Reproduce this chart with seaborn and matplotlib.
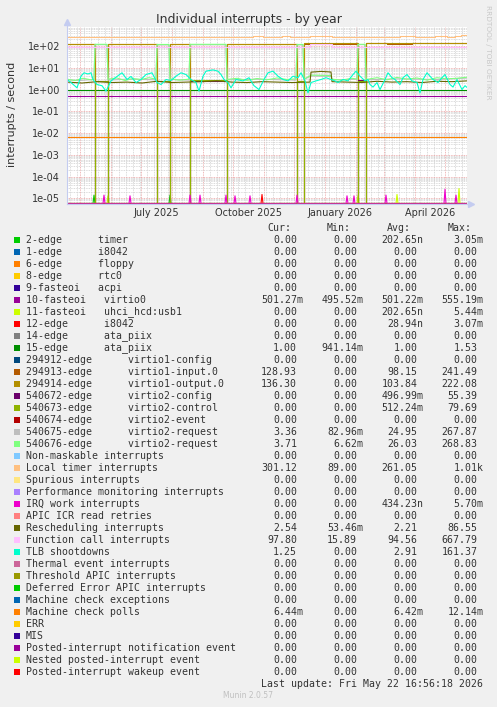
import numpy as np
import pandas as pd
import matplotlib
matplotlib.use("Agg")
import matplotlib.pyplot as plt
import matplotlib.dates as mdates
import matplotlib.ticker as mticker
import matplotlib.transforms as mtransforms
from matplotlib.patches import Rectangle
from matplotlib.lines import Line2D
import seaborn as sns

# ---------------- data (x = days from the left edge of the 400 day graph) ----
start = pd.Timestamp("2025-04-17 16:56")

names = [
    "2-edge      timer", "1-edge      i8042", "6-edge      floppy",
    "8-edge      rtc0", "9-fasteoi   acpi", "10-fasteoi   virtio0",
    "11-fasteoi   uhci_hcd:usb1", "12-edge      i8042", "14-edge      ata_piix",
    "15-edge      ata_piix", "294912-edge      virtio1-config",
    "294913-edge      virtio1-input.0", "294914-edge      virtio1-output.0",
    "540672-edge      virtio2-config", "540673-edge      virtio2-control",
    "540674-edge      virtio2-event", "540675-edge      virtio2-request",
    "540676-edge      virtio2-request", "Non-maskable interrupts",
    "Local timer interrupts", "Spurious interrupts",
    "Performance monitoring interrupts", "IRQ work interrupts",
    "APIC ICR read retries", "Rescheduling interrupts",
    "Function call interrupts", "TLB shootdowns", "Thermal event interrupts",
    "Threshold APIC interrupts", "Deferred Error APIC interrupts",
    "Machine check exceptions", "Machine check polls", "ERR", "MIS",
    "Posted-interrupt notification event", "Nested posted-interrupt event",
    "Posted-interrupt wakeup event",
]
colors = [
    "#00CC00", "#0066B3", "#FF8000", "#FFCC00", "#330099", "#990099", "#CCFF00",
    "#FF0000", "#808080", "#008F00", "#00487D", "#B35A00", "#B38F00", "#6B006B",
    "#8FB300", "#B30000", "#BEBEBE", "#80FF80", "#80C9FF", "#FFC080", "#FFE680",
    "#AA80FF", "#EE00CC", "#FF8080", "#666600", "#FFBFFF", "#00FFCC", "#CC6699",
    "#999900", "#00CC00", "#0066B3", "#FF8000", "#FFCC00", "#330099", "#990099",
    "#CCFF00", "#FF0000",
]
cur_vals = [0, 0, 0, 0, 0, 0.50127, 0, 0, 0, 1.00, 0, 128.93, 136.30, 0, 0, 0,
            3.36, 3.71, 0, 301.12, 0, 0, 0, 0, 2.54, 97.80, 1.25, 0, 0, 0, 0,
            6.44e-3, 0, 0, 0, 0, 0]
min_vals = [0, 0, 0, 0, 0, 0.49552, 0, 0, 0, 0.94114, 0, 0, 0, 0, 0, 0,
            82.96e-3, 6.62e-3, 0, 89.00, 0, 0, 0, 0, 53.46e-3, 15.89, 0, 0, 0,
            0, 0, 0, 0, 0, 0, 0, 0]
avg_vals = [202.65e-9, 0, 0, 0, 0, 0.50122, 202.65e-9, 28.94e-9, 0, 1.00, 0,
            98.15, 103.84, 0.49699, 0.51224, 0, 24.95, 26.03, 0, 261.05, 0, 0,
            434.23e-9, 0, 2.21, 94.56, 2.91, 0, 0, 0, 0, 6.42e-3, 0, 0, 0, 0, 0]
max_vals = [3.05e-3, 0, 0, 0, 0, 0.55519, 5.44e-3, 3.07e-3, 0, 1.53, 0, 241.49,
            222.08, 55.39, 79.69, 0, 267.87, 268.83, 0, 1010, 0, 0, 5.70e-3, 0,
            86.55, 667.79, 161.37, 0, 0, 0, 0, 12.14e-3, 0, 0, 0, 0, 0]

# flat series
virtio0_days = [0, 400]
virtio0_vals = [0.50, 0.50]
ata15_days = [0, 400]
ata15_vals = [1.0, 1.0]
mcpoll_days = [0, 400]
mcpoll_vals = [6.4e-3, 6.4e-3]

# step-like series
v1in_days = [0, 28, 41, 90, 103, 123, 160, 230, 237, 291, 299, 320, 345, 360, 400]
v1in_vals = [118, 0, 122, 0, 120, 0, 118, 0, 130, 0, 138, 128, 140, 136, 129]
v1out_days = [0, 28, 41, 90, 103, 123, 160, 230, 237, 291, 299, 400]
v1out_vals = [122, 0, 126, 0, 124, 0, 122, 0, 134, 0, 132, 136]
v2cfg_days = [0, 28, 41, 90, 103, 123, 160, 230, 237, 291, 299, 400]
v2cfg_vals = [0, 2.5, 0, 2.4, 0, 2.6, 0, 2.5, 0, 2.7, 0, 0]
v2ctl_days = [0, 28, 41, 90, 103, 123, 160, 230, 237, 291, 299, 400]
v2ctl_vals = [0, 2.6, 0, 2.5, 0, 2.7, 0, 2.6, 0, 2.6, 0, 0]
ltimer_days = [0, 186, 196, 215, 223, 243, 265, 308, 312, 333, 348, 368, 380, 388, 394, 400]
ltimer_vals = [252, 292, 252, 292, 252, 292, 252, 272, 252, 292, 252, 292, 252, 305, 335, 301]
fcall_days = [0, 243, 265, 400]
fcall_vals = [90, 128, 90, 98]

# line series
req675_days = [0, 12, 27, 28, 40, 41, 60, 89, 90, 102, 103, 122, 123, 159, 160, 190,
               229, 230, 236, 237, 244, 264, 265, 290, 291, 298, 299, 330, 370, 400]
req675_vals = [2.8, 2.6, 2.9, 115, 115, 2.7, 3.0, 2.8, 112, 112, 2.9, 2.7, 114, 114,
               2.8, 3.0, 2.7, 113, 113, 2.9, 4.2, 4.0, 2.8, 3.0, 116, 116, 2.8, 3.1,
               2.9, 3.36]
req676_days = [0, 8, 16, 24, 27, 28, 40, 41, 50, 58, 66, 74, 82, 89, 90, 102, 103,
               112, 122, 123, 159, 160, 170, 180, 190, 200, 210, 220, 229, 230, 236,
               237, 244, 264, 265, 275, 285, 290, 291, 298, 299, 310, 320, 330, 340,
               350, 360, 370, 380, 390, 400]
req676_vals = [3.0, 2.6, 3.3, 2.8, 2.9, 120, 120, 3.0, 3.4, 2.6, 3.2, 2.9, 3.5, 3.0,
               118, 118, 3.1, 2.7, 3.0, 120, 120, 2.9, 3.3, 2.6, 3.2, 2.8, 3.4, 2.9,
               3.1, 118, 118, 3.0, 4.6, 4.4, 3.0, 2.7, 3.3, 3.0, 120, 120, 2.9, 3.5,
               2.8, 3.6, 3.0, 3.4, 2.7, 3.5, 3.1, 3.3, 3.7]
resched_days = [0, 15, 30, 45, 60, 75, 90, 105, 120, 135, 150, 165, 180, 195, 210,
                225, 243, 244, 254, 264, 265, 280, 295, 310, 325, 340, 355, 370,
                385, 400]
resched_vals = [2.2, 2.0, 2.3, 2.1, 2.2, 2.0, 2.4, 2.1, 2.2, 2.3, 2.5, 2.2, 2.1,
                2.3, 2.2, 2.1, 2.2, 6.3, 6.8, 6.4, 2.3, 2.2, 2.1, 2.4, 2.2, 2.3,
                2.1, 2.4, 2.3, 2.5]
tlb_days = [0, 4, 10, 14, 17, 21, 24, 26, 30, 35, 39, 44, 50, 55, 60, 64, 69, 74,
            79, 85, 90, 94, 99, 104, 109, 114, 119, 124, 129, 132, 136, 139, 146,
            151, 154, 157, 161, 164, 169, 176, 182, 187, 192, 197, 201, 206, 211,
            216, 221, 226, 231, 234, 238, 241, 244, 249, 254, 259, 264, 268, 271,
            276, 281, 286, 289, 293, 298, 301, 303, 306, 310, 313, 318, 321, 325,
            328, 333, 336, 340, 345, 350, 353, 356, 360, 363, 366, 371, 375, 378,
            383, 386, 390, 395, 398, 400]
tlb_vals = [2.9, 2.1, 1.2, 4.1, 5.9, 5.2, 5.9, 2.9, 1.7, 1.5, 0.84, 2.5, 4.0, 5.9,
            2.9, 4.0, 2.1, 2.9, 4.9, 5.9, 2.1, 1.7, 2.9, 2.6, 4.1, 5.9, 4.9, 2.9,
            2.1, 0.84, 4.1, 7.0, 8.0, 7.0, 4.9, 2.9, 2.1, 1.2, 2.9, 2.5, 3.5, 1.5,
            1.0, 2.9, 5.9, 7.0, 4.1, 2.9, 2.5, 4.1, 3.5, 5.9, 2.5, 0.7, 2.1, 2.5,
            2.9, 3.5, 2.9, 2.5, 2.1, 2.9, 2.5, 4.9, 7.0, 4.1, 2.5, 2.9, 1.7, 1.3,
            2.1, 1.0, 2.9, 5.9, 3.5, 2.9, 1.7, 3.5, 4.9, 2.5, 2.1, 0.7, 2.9, 5.9,
            4.1, 2.9, 2.1, 3.5, 4.9, 1.7, 1.3, 2.9, 1.0, 1.5, 1.25]

# one-day spikes just above 1e-05
timer_spike_days = [27, 103]
timer_spike_vals = [1.4e-5, 1.4e-5]
uhci_spike_days = [41, 291, 330, 392]
uhci_spike_vals = [1.3e-5, 1.3e-5, 1.5e-5, 2.8e-5]
i8042_spike_days = [195]
i8042_spike_vals = [1.5e-5]
irqwork_spike_days = [37, 63, 123, 133, 159, 168, 183, 230, 280, 287, 319, 378, 389]
irqwork_spike_vals = [1.4e-5, 1.3e-5, 1.4e-5, 1.4e-5, 1.4e-5, 1.3e-5, 1.3e-5,
                      1.4e-5, 1.3e-5, 1.3e-5, 1.4e-5, 2.6e-5, 1.4e-5]

xtick_labels = ["July 2025", "October 2025", "January 2026", "April 2026"]
xtick_dates = ["2025-07-16", "2025-10-16", "2026-01-16", "2026-04-16"]
ytick_vals = [1e-5, 1e-4, 1e-3, 1e-2, 1e-1, 1e0, 1e1, 1e2]
col_headers = ["Cur:", "Min:", "Avg:", "Max:"]


def spikes(days, peaks):
    d, v = [0], [0.0]
    for day, p in zip(days, peaks):
        d += [day - 1, day, day + 1]
        v += [0.0, p, 0.0]
    d.append(400)
    v.append(0.0)
    return d, v


# name -> (days, values, steps)
series = {
    "2-edge      timer": spikes(timer_spike_days, timer_spike_vals) + (False,),
    "10-fasteoi   virtio0": (virtio0_days, virtio0_vals, False),
    "11-fasteoi   uhci_hcd:usb1": spikes(uhci_spike_days, uhci_spike_vals) + (False,),
    "12-edge      i8042": spikes(i8042_spike_days, i8042_spike_vals) + (False,),
    "15-edge      ata_piix": (ata15_days, ata15_vals, False),
    "294913-edge      virtio1-input.0": (v1in_days, v1in_vals, True),
    "294914-edge      virtio1-output.0": (v1out_days, v1out_vals, True),
    "540672-edge      virtio2-config": (v2cfg_days, v2cfg_vals, True),
    "540673-edge      virtio2-control": (v2ctl_days, v2ctl_vals, True),
    "540675-edge      virtio2-request": (req675_days, req675_vals, False),
    "540676-edge      virtio2-request": (req676_days, req676_vals, False),
    "Local timer interrupts": (ltimer_days, ltimer_vals, True),
    "IRQ work interrupts": spikes(irqwork_spike_days, irqwork_spike_vals) + (False,),
    "Rescheduling interrupts": (resched_days, resched_vals, False),
    "Function call interrupts": (fcall_days, fcall_vals, True),
    "TLB shootdowns": (tlb_days, tlb_vals, False),
    "Machine check polls": (mcpoll_days, mcpoll_vals, False),
}

# ---------------- figure ----------------
W, H = 497, 707
sns.set_style("white")
plt.rcParams["font.family"] = ["DejaVu Sans"]
TXT = "#333333"

fig = plt.figure(figsize=(W / 100, H / 100), dpi=100, facecolor="#F0F0F0")
ax_l, ax_r, ax_t, ax_b = 67, 467, 27, 203.5
ax = fig.add_axes([ax_l / W, 1 - ax_b / H, (ax_r - ax_l) / W, (ax_b - ax_t) / H])
ax.set_facecolor("white")

px_per_dec = 21.7
y_floor = 10 ** (-5 - (ax_b - 198.3) / px_per_dec)
y_top = 10 ** (2 + (46 - ax_t) / px_per_dec)

for name, color in zip(names, colors):
    if name in series:
        days, vals, steps = series[name]
    else:
        days, vals, steps = [0, 400], [0, 0], False
    x = start + pd.to_timedelta(np.asarray(days, dtype=float), unit="D")
    y = np.clip(np.asarray(vals, dtype=float), y_floor, None)
    sns.lineplot(x=x, y=y, color=color, lw=0.8, estimator=None, sort=False,
                 drawstyle="steps-post" if steps else "default", ax=ax)

ax.set_yscale("log")
ax.set_ylim(y_floor, y_top)
ax.set_xlim(start, start + pd.Timedelta(days=400))
ax.set_xlabel("")
ax.set_ylabel("")

ax.yaxis.set_major_locator(mticker.FixedLocator(ytick_vals))
ax.yaxis.set_minor_locator(mticker.LogLocator(base=10, subs=np.arange(2, 10), numticks=20))
ax.yaxis.set_major_formatter(mticker.FuncFormatter(lambda v, p: f"{v:.0e}"))
ax.yaxis.set_minor_formatter(mticker.NullFormatter())
ax.xaxis.set_major_locator(mdates.MonthLocator())
ax.xaxis.set_minor_locator(mdates.WeekdayLocator(byweekday=mdates.MO))
ax.xaxis.set_major_formatter(mticker.NullFormatter())
ax.xaxis.set_minor_formatter(mticker.NullFormatter())

ax.grid(True, which="minor", color="#CFCFCF", linestyle=(0, (1, 1)), linewidth=0.6)
ax.grid(True, which="major", color="#EBA0A0", linestyle=(0, (1, 1)), linewidth=0.6)
ax.set_axisbelow(True)

ax.tick_params(axis="y", which="major", labelsize=7, labelcolor=TXT, length=2,
               width=0.6, color="#A0A0A0", pad=3)
ax.tick_params(axis="x", which="major", length=2, width=0.6, color="#A0A0A0")
ax.tick_params(which="minor", length=0)

for s in ["top", "right"]:
    ax.spines[s].set_visible(False)
axis_col = "#C4CCF0"
for s in ["left", "bottom"]:
    ax.spines[s].set_color(axis_col)
    ax.spines[s].set_linewidth(0.8)

# axis arrows
fig.add_artist(Line2D([ax_r / W, 470 / W], [1 - ax_b / H] * 2, color=axis_col, lw=0.8))
fig.add_artist(Line2D([ax_l / W] * 2, [1 - ax_t / H, 1 - 23 / H], color=axis_col, lw=0.8))
fig.add_artist(Line2D([471 / W], [1 - ax_b / H], marker=">", ms=4, color=axis_col, lw=0))
fig.add_artist(Line2D([ax_l / W], [1 - 22 / H], marker="^", ms=4, color=axis_col, lw=0))

# x labels (centered on the month, as rrdtool does)
trans = mtransforms.blended_transform_factory(ax.transData, fig.transFigure)
for lab, d in zip(xtick_labels, xtick_dates):
    ax.text(pd.Timestamp(d), 1 - 212.7 / H, lab, transform=trans, ha="center",
            va="center", fontsize=7, color=TXT)

fig.text(0.5, 1 - 19 / H, "Individual interrupts - by year", ha="center",
         va="center", fontsize=9, color=TXT)
fig.text(12 / W, 1 - 114 / H, "interrupts / second", rotation=90, ha="center",
         va="center", fontsize=8, color=TXT)
fig.text(488 / W, 1 - 5 / H, "RRDTOOL / TOBI OETIKER", rotation=270, ha="center",
         va="top", fontsize=5.3, color="#C8C8C8")


# ---------------- legend ----------------
def si(v):
    if v == 0:
        return "0.00 "
    e = int(np.floor(np.log10(abs(v)) / 3) * 3)
    suffix = {-9: "n", -6: "u", -3: "m", 0: " ", 3: "k"}[e]
    return f"{v / 10 ** e:.2f}{suffix}"


CH = 6.02  # monospace advance in pixels (column positions)
mono = dict(family="DejaVu Sans Mono", fontsize=7.1, color=TXT, va="center")
for k, hdr in enumerate(col_headers):
    fig.text((26 + (44 + 10 * k) * CH) / W, 1 - 228 / H, hdr, ha="right", **mono)
for i, (name, color) in enumerate(zip(names, colors)):
    y_px = 240 + 12 * i
    fig.text(26 / W, 1 - y_px / H, name, **mono)
    for k, v in enumerate((cur_vals[i], min_vals[i], avg_vals[i], max_vals[i])):
        s = si(v)
        end = 46 + 10 * k if s[-1] != " " else 45 + 10 * k
        fig.text((26 + end * CH) / W, 1 - y_px / H, s.strip(), ha="right", **mono)
    fig.add_artist(Rectangle((14 / W, 1 - (y_px + 2.8) / H), 6 / W, 5.6 / H,
                             transform=fig.transFigure, facecolor=color, edgecolor="none"))

fig.text(483 / W, 1 - 684 / H, "Last update: Fri May 22 16:56:18 2026", ha="right",
         **mono)
fig.text(248 / W, 1 - 696 / H, "Munin 2.0.57", ha="center", va="center",
         fontsize=5.5, color="#C0C0C0")

fig.savefig("out.png", dpi=100, facecolor=fig.get_facecolor())
